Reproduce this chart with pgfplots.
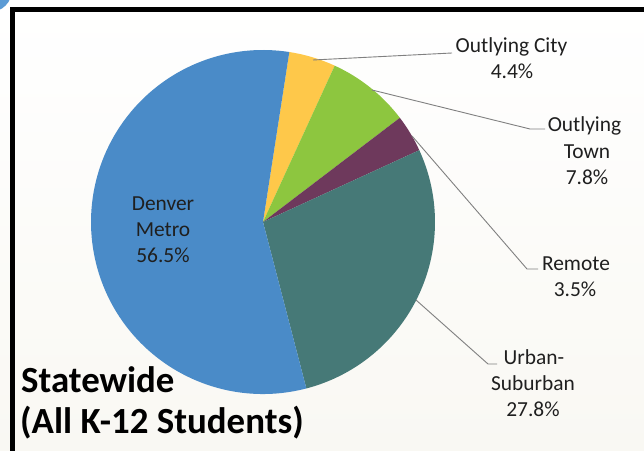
\documentclass[border=0pt]{standalone}
\usepackage{pgfplots}
\pgfplotsset{compat=1.18}
\usepackage{pgfplotstable}
\usepackage{fontspec}
\setmainfont{Carlito}
\definecolor{cBlue}{RGB}{74,139,200}
\definecolor{cYellow}{RGB}{254,200,74}
\definecolor{cGreen}{RGB}{141,198,63}
\definecolor{cPurple}{RGB}{110,57,92}
\definecolor{cTeal}{RGB}{70,121,119}
\definecolor{cBg}{RGB}{249,248,243}
\definecolor{cLead}{RGB}{128,128,128}
\definecolor{cCorner}{RGB}{91,155,213}
\pgfplotstableread[col sep=comma]{
name,value,color
Outlying City,4.4,cYellow
Outlying Town,7.8,cGreen
Remote,3.5,cPurple
Urban-Suburban,27.8,cTeal
Denver Metro,56.5,cBlue
}\piedata
\newcommand\cum{81.2}
\begin{document}
\begin{tikzpicture}
\begin{axis}[x=1bp,y=1bp,xmin=0,xmax=644,ymin=0,ymax=451,hide axis,clip=true,
  every node/.style={inner sep=0pt}]
\shade[top color=white,bottom color=cBg] (axis cs:0,0) rectangle (axis cs:644,451);
\begin{scope}
\clip (axis cs:0,0) rectangle (axis cs:644,451);
\fill[cCorner] (axis cs:-10,461) circle[radius=22bp];
\end{scope}
\draw[line width=5bp,black,line join=miter] (axis cs:12.5,0) -- (axis cs:12.5,441) -- (axis cs:644,441);
\pgfplotsforeachungrouped \i in {0,...,4}{%
  \pgfplotstablegetelem{\i}{value}\of\piedata \let\sliceval\pgfplotsretval
  \pgfplotstablegetelem{\i}{color}\of\piedata \let\slicecol\pgfplotsretval
  \pgfmathsetmacro\endang{\cum-3.6*\sliceval}%
  \edef\temp{\noexpand\fill[fill=\slicecol] (axis cs:263,229) -- (axis cs:{263+172*cos(\cum)},{229+172*sin(\cum)}) arc[start angle=\cum, end angle=\endang, radius=172bp] -- cycle;}%
  \temp
  \global\let\cum\endang
}
\addplot[cLead,line width=0.9bp,no marks] coordinates {(313,391) (452,398)};
\addplot[cLead,line width=0.9bp,no marks] coordinates {(372,361) (530,322) (545,322)};
\addplot[cLead,line width=0.9bp,no marks] coordinates {(412,315) (527,182) (538,182)};
\addplot[cLead,line width=0.9bp,no marks] coordinates {(416,151) (488,87) (497,87)};
\begin{scope}[every node/.style={inner sep=0pt,anchor=base,font=\fontsize{21.5}{26}\selectfont,text=black!88}]
\node at (axis cs:511.5,398) {Outlying City};
\node at (axis cs:512,372) {4.4\%};
\node at (axis cs:584.5,319) {Outlying};
\node at (axis cs:587,292) {Town};
\node at (axis cs:587,266) {7.8\%};
\node at (axis cs:576,180) {Remote};
\node at (axis cs:575,154) {3.5\%};
\node at (axis cs:534,86) {Urban-};
\node at (axis cs:533,60) {Suburban};
\node at (axis cs:533,34) {27.8\%};
\node at (axis cs:163,240) {Denver};
\node at (axis cs:163,214) {Metro};
\node at (axis cs:163,188) {56.5\%};
\end{scope}
\node[anchor=base west,inner sep=0pt,font=\fontsize{37}{40}\selectfont\bfseries] at (axis cs:21,58) {Statewide};
\node[anchor=base west,inner sep=0pt,font=\fontsize{37}{40}\selectfont\bfseries] at (axis cs:20,17) {(All K-12 Students)};
\end{axis}
\pgfresetboundingbox
\path (current axis.south west) rectangle (current axis.north east);
\end{tikzpicture}
\end{document}
